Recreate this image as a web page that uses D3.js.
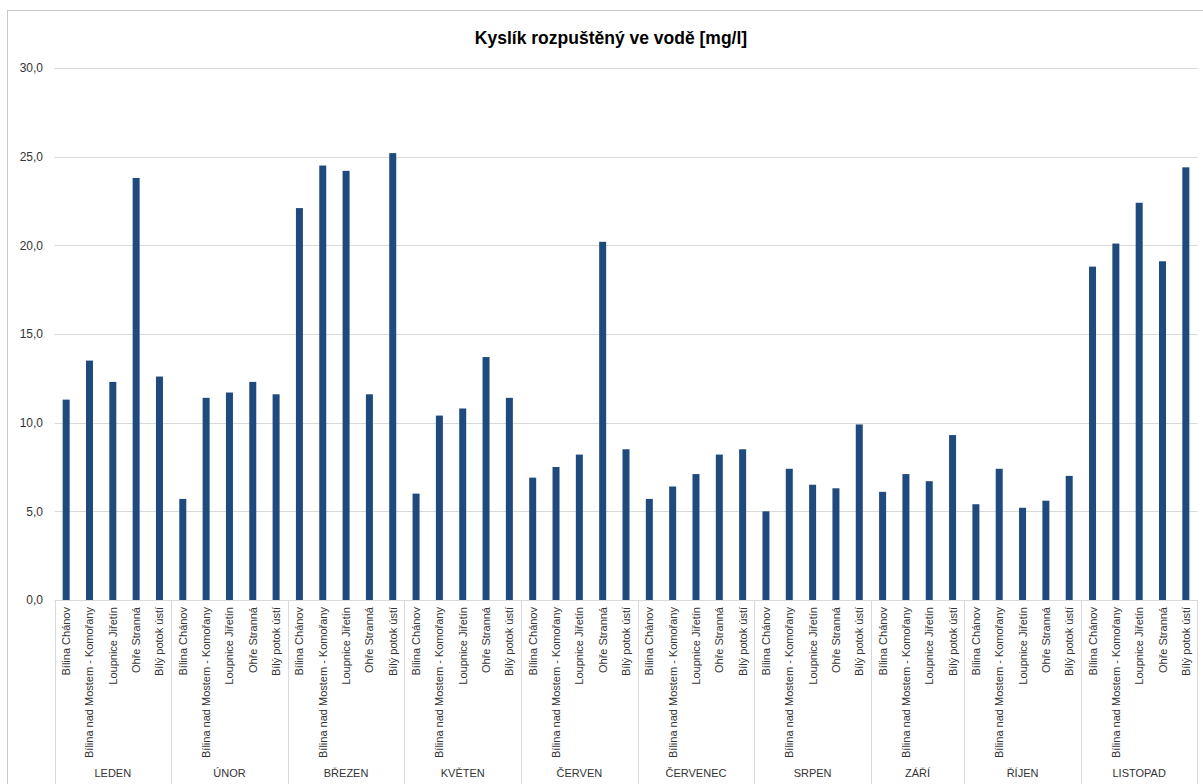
<!DOCTYPE html>
<html>
<head>
<meta charset="utf-8">
<script src="https://cdn.jsdelivr.net/npm/d3@7"></script>
<style>
  body { margin: 0; background: #fff; }
  text { font-family: "Liberation Sans", Arial, sans-serif; }
</style>
</head>
<body>
<svg width="1203" height="784"></svg>
<script>
// months and stations
var months = ["LEDEN", "ÚNOR", "BŘEZEN", "KVĚTEN", "ČERVEN", "ČERVENEC", "SRPEN", "ZÁŘÍ", "ŘÍJEN", "LISTOPAD"];
var stations = ["Bílina Chánov", "Bílina nad Mostem - Komořany", "Loupnice Jiřetín", "Ohře Stranná", "Bílý potok ústí"];
// values per month, in station order (null = no measurement)
var leden    = [11.3, 13.5, 12.3, 23.8, 12.6];
var unor     = [5.7, 11.4, 11.7, 12.3, 11.6];
var brezen   = [22.1, 24.5, 24.2, 11.6, 25.2];
var kveten   = [6.0, 10.4, 10.8, 13.7, 11.4];
var cerven   = [6.9, 7.5, 8.2, 20.2, 8.5];
var cervenec = [5.7, 6.4, 7.1, 8.2, 8.5];
var srpen    = [5.0, 7.4, 6.5, 6.3, 9.9];
var zari     = [6.1, 7.1, 6.7, null, 9.3];
var rijen    = [5.4, 7.4, 5.2, 5.6, 7.0];
var listopad = [18.8, 20.1, 22.4, 19.1, 24.4];
var yTicks = [0, 5, 10, 15, 20, 25, 30];

var monthValues = [leden, unor, brezen, kveten, cerven, cervenec, srpen, zari, rijen, listopad];

// flatten into bar rows
var rows = [];
months.forEach(function (m, i) {
    monthValues[i].forEach(function (v, j) {
        if (v !== null) {
            rows.push({ key: m + "|" + stations[j], month: m, station: stations[j], value: v });
        }
    });
});

var svg = d3.select("svg");
var plotLeft = 54.5, plotRight = 1197.5, plotTop = 68, plotBottom = 600;

// outer border
svg.append("rect")
        .attr("x", 7.5).attr("y", 10.5)
        .attr("width", 1200).attr("height", 790)
        .attr("fill", "none")
        .attr("stroke", "#c8c8c8");

var x = d3.scaleBand()
        .domain(rows.map(function (d) { return d.key; }))
        .range([plotLeft, plotRight])
        .paddingInner(0.7)
        .paddingOuter(0.35);

var y = d3.scaleLinear().domain([0, 30]).range([plotBottom, plotTop]);

// gridlines
svg.append("g").selectAll("line")
        .data(yTicks.slice(1))
        .enter().append("line")
        .attr("x1", plotLeft).attr("x2", plotRight)
        .attr("y1", function (d) { return Math.round(y(d)) + 0.5; })
        .attr("y2", function (d) { return Math.round(y(d)) + 0.5; })
        .attr("stroke", "#d9d9d9");

// y axis labels
var yAxis = d3.axisLeft(y)
        .tickValues(yTicks)
        .tickSize(0)
        .tickPadding(0)
        .tickFormat(function (d) { return d3.format(".1f")(d).replace(".", ","); });
var ya = svg.append("g").attr("transform", "translate(43,0)").call(yAxis);
ya.select(".domain").remove();
ya.selectAll("text")
        .attr("fill", "#333")
        .style("font-size", "12px")
        .style("font-family", "'Liberation Sans', Arial, sans-serif");

// bars
svg.append("g").selectAll("rect")
        .data(rows)
        .enter().append("rect")
        .attr("x", function (d) { return x(d.key); })
        .attr("width", x.bandwidth())
        .attr("y", function (d) { return y(d.value); })
        .attr("height", function (d) { return y(0) - y(d.value); })
        .attr("fill", "#1f4a7e");

// x axis line
svg.append("line")
        .attr("x1", plotLeft).attr("x2", plotRight)
        .attr("y1", plotBottom + 0.5).attr("y2", plotBottom + 0.5)
        .attr("stroke", "#d9d9d9");

// station labels
svg.append("g").selectAll("text")
        .data(rows)
        .enter().append("text")
        .attr("transform", function (d) {
            return "translate(" + (x(d.key) + x.bandwidth() / 2 + 4) + "," + (plotBottom + 7) + ") rotate(-90)";
        })
        .attr("text-anchor", "end")
        .attr("fill", "#333")
        .style("font-size", "11px")
        .text(function (d) { return d.station; });

// month groups: separators and labels
var step = x.step();
var groups = months.map(function (m) {
    var r = rows.filter(function (d) { return d.month === m; });
    var x0 = x(r[0].key) - step * x.paddingInner() / 2;
    return { month: m, x0: x0, x1: x0 + r.length * step };
});

var sepX = [plotLeft].concat(groups.map(function (g) { return g.x1; }));
svg.append("g").selectAll("line")
        .data(sepX)
        .enter().append("line")
        .attr("x1", function (d) { return Math.round(d) + 0.5; })
        .attr("x2", function (d) { return Math.round(d) + 0.5; })
        .attr("y1", plotBottom).attr("y2", 784)
        .attr("stroke", "#d9d9d9");

svg.append("g").selectAll("text")
        .data(groups)
        .enter().append("text")
        .attr("x", function (d) { return (d.x0 + d.x1) / 2; })
        .attr("y", 777)
        .attr("text-anchor", "middle")
        .attr("fill", "#333")
        .style("font-size", "11px")
        .text(function (d) { return d.month; });

// title
svg.append("text")
        .attr("x", 611).attr("y", 44)
        .attr("text-anchor", "middle")
        .attr("fill", "#000")
        .style("font-size", "17.5px")
        .style("font-weight", "bold")
        .text("Kyslík rozpuštěný ve vodě [mg/l]");
</script>
</body>
</html>
